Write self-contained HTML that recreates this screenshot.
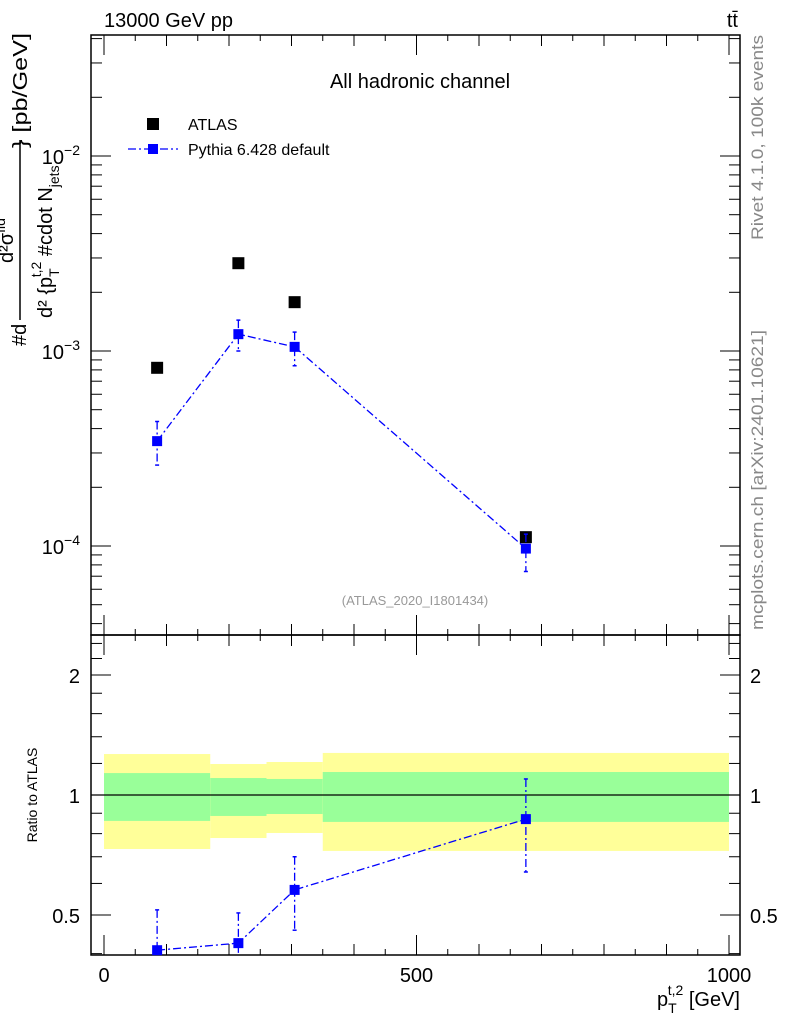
<!DOCTYPE html>
<html><head><meta charset="utf-8"><style>
html,body{margin:0;padding:0;background:#fff;}
svg{display:block;font-family:"Liberation Sans",sans-serif;}
</style></head><body>
<svg id="c" width="786" height="1024" xmlns="http://www.w3.org/2000/svg">
<text x="104" y="27" font-size="20">13000 GeV pp</text>
<text x="738" y="27" font-size="20" text-anchor="end">tt̄</text>
<text x="420" y="88" font-size="20" text-anchor="middle">All hadronic channel</text>
<text x="415" y="605" font-size="13" fill="#999" text-anchor="middle">(ATLAS_2020_I1801434)</text>
<text transform="translate(763,240) rotate(-90)" font-size="17" fill="#888" textLength="205" lengthAdjust="spacingAndGlyphs">Rivet 4.1.0,  100k events</text>
<text transform="translate(763,630) rotate(-90)" font-size="17" fill="#888" textLength="300" lengthAdjust="spacingAndGlyphs">mcplots.cern.ch [arXiv:2401.10621]</text>
<g font-size="20">
<text transform="translate(27,148) rotate(-90)" textLength="115" lengthAdjust="spacingAndGlyphs">} [pb/GeV]</text>
<text transform="translate(26,346) rotate(-90)">#d</text>
<line x1="20" y1="140" x2="20" y2="320" stroke="#000" stroke-width="1.5"/>
<text transform="translate(13,263) rotate(-90)" font-size="20">d²σ<tspan dy="-8" font-size="14">fid</tspan></text>
<text transform="translate(52,318) rotate(-90)" font-size="20">d² {p<tspan dy="7" font-size="14">T</tspan><tspan dy="-18" dx="-9" font-size="14">t,2</tspan><tspan dy="11"> #cdot N</tspan><tspan dy="7" font-size="14">jets</tspan></text>
</g>
<g id="g"></g>
</svg>
<script>
const xBins=[85,215,305,675];
const atlasVals=[8.2e-4,2.82e-3,1.78e-3,1.11e-4];
const pyVals=[3.45e-4,1.22e-3,1.05e-3,9.7e-5];
const pyErrUp=[4.35e-4,1.44e-3,1.25e-3,1.15e-4];
const pyErrDn=[2.6e-4,1.0e-3,8.4e-4,7.4e-5];
const ratioVals=[0.408,0.425,0.578,0.87];
const ratioUp=[0.515,0.506,0.70,1.097];
const ratioDn=[0.36,0.36,0.458,0.641];
const bandEdges=[0,170,260,350,1000];
const green1Up=[1.135,1.103,1.097,1.142];
const green1Dn=[0.861,0.886,0.896,0.856];
const yellowUp=[1.267,1.196,1.21,1.275];
const yellowDn=[0.732,0.78,0.803,0.724];
const xTicks=[0,500,1000];
const NS="http://www.w3.org/2000/svg";
const g=document.getElementById('g');
const X=v=>104+0.625*v;
const Y=v=>351-195*(Math.log10(v)+3);
const R=v=>795-120*Math.log2(v);
const L=91,Rt=740,T=35,M=635,B=955;
function el(t,a,p){const e=document.createElementNS(NS,t);for(const k in a)e.setAttribute(k,a[k]);(p||g).appendChild(e);return e;}
for(let i=0;i<4;i++){
 const y=el('rect',{x:X(bandEdges[i]),y:R(yellowUp[i]),width:X(bandEdges[i+1])-X(bandEdges[i]),height:R(yellowDn[i])-R(yellowUp[i]),fill:'#ffff99'});
 
 
 const gr=el('rect',{x:X(bandEdges[i]),y:R(green1Up[i]),width:X(bandEdges[i+1])-X(bandEdges[i]),height:R(green1Dn[i])-R(green1Up[i]),fill:'#99ff99'});
 
 
}
const one=el('line',{x1:L,x2:Rt,y1:R(1),y2:R(1),stroke:'#000','stroke-width':1.2});


const f1=el('rect',{x:L,y:T,width:Rt-L,height:M-T,fill:'none',stroke:'#000','stroke-width':1.5});


const f2=el('rect',{x:L,y:M,width:Rt-L,height:B-M,fill:'none',stroke:'#000','stroke-width':1.5});


for(let v=0;v<=1000;v+=50){
 const len=v%500===0?20:(v%100===0?11:6);
 for(const [yb,dir] of [[T,1],[M,-1],[M,1],[B,-1]]){
  el('line',{x1:X(v),x2:X(v),y1:yb,y2:yb+dir*len,stroke:'#000'});
 }
}
xTicks.forEach(v=>{const t=el('text',{x:X(v),y:982,'font-size':20,'text-anchor':'middle'});t.textContent=v;
 
 });
const xt=el('text',{x:740,y:1006,'font-size':20,'text-anchor':'end'});
xt.innerHTML='p<tspan dy="7" font-size="14">T</tspan><tspan dx="-9" dy="-18" font-size="14">t,2</tspan><tspan dy="11"> [GeV]</tspan>';


for(let e=-5;e<=-1;e++){for(let m=1;m<10;m++){const v=m*Math.pow(10,e);const y=Y(v);if(y<T||y>M)continue;
 const len=m===1?20:11;
 el('line',{x1:L,x2:L+len,y1:y,y2:y,stroke:'#000'});el('line',{x1:Rt,x2:Rt-len,y1:y,y2:y,stroke:'#000'});}}
[[-2,156],[-3,351],[-4,546]].forEach(([e,y])=>{const t=el('text',{x:80,y:y+8,'font-size':20,'text-anchor':'end'});
 t.innerHTML='10<tspan dy="-9" font-size="14">'+'\u2212'+(-e)+'</tspan>';
 
 });
const rmin=[0.4,0.6,0.7,0.8,0.9,1.2,1.4,1.6,1.8,2.2,2.4];
rmin.forEach(v=>{const y=R(v);el('line',{x1:L,x2:L+11,y1:y,y2:y,stroke:'#000'});el('line',{x1:Rt,x2:Rt-11,y1:y,y2:y,stroke:'#000'});});
[[0.5,'0.5'],[1,'1'],[2,'2']].forEach(([v,s])=>{const y=R(v);el('line',{x1:L,x2:L+20,y1:y,y2:y,stroke:'#000'});el('line',{x1:Rt,x2:Rt-20,y1:y,y2:y,stroke:'#000'});
 const t1=el('text',{x:80,y:y+8,'font-size':20,'text-anchor':'end'});t1.textContent=s;
 
 
 const t2=el('text',{x:750,y:y+8,'font-size':20});t2.textContent=s;
 
 });
const rt=el('text',{transform:'translate(37,795) rotate(-90)','font-size':14,'text-anchor':'middle'});rt.textContent='Ratio to ATLAS';


const dash='8,3,2,3';
function series(vals,up,dn,yf,name){
 const pts=xBins.map((x,i)=>X(x)+','+Math.min(yf(vals[i]),B)).join(' ');
 const pl=el('polyline',{points:pts,fill:'none',stroke:'#0000ff','stroke-width':1.3,'stroke-dasharray':dash});
 
 
 xBins.forEach((x,i)=>{
  const px=X(x),y1=Math.max(yf(up[i]),T),y2=Math.min(yf(dn[i]),B);
  el('line',{x1:px,x2:px,y1:y1,y2:y2,stroke:'#0000ff','stroke-width':1.3,'stroke-dasharray':dash});
  if(yf(up[i])>T)el('line',{x1:px-2,x2:px+2,y1:y1,y2:y1,stroke:'#0000ff','stroke-width':1.5});
  if(yf(dn[i])<B)el('line',{x1:px-2,x2:px+2,y1:y2,y2:y2,stroke:'#0000ff','stroke-width':1.5});
  const s=el('rect',{x:px-5,y:yf(vals[i])-5,width:10,height:10,fill:'#0000ff'});
  
  
 });
}
xBins.forEach((x,i)=>{const s=el('rect',{x:X(x)-6,y:Y(atlasVals[i])-6,width:12,height:12,fill:'#000'});
 
 });
series(pyVals,pyErrUp,pyErrDn,Y,'pythia');
series(ratioVals,ratioUp,ratioDn,R,'pythia-ratio');
const la=el('rect',{x:147,y:118,width:12,height:12,fill:'#000'});


const lt=el('text',{x:188,y:130,'font-size':16});lt.textContent='ATLAS';


el('line',{x1:128,x2:178,y1:149,y2:149,stroke:'#0000ff','stroke-width':1.3,'stroke-dasharray':dash});
const lp=el('rect',{x:148,y:144,width:10,height:10,fill:'#0000ff'});


const lt2=el('text',{x:188,y:155,'font-size':16});lt2.textContent='Pythia 6.428 default';


</script>
</body></html>
